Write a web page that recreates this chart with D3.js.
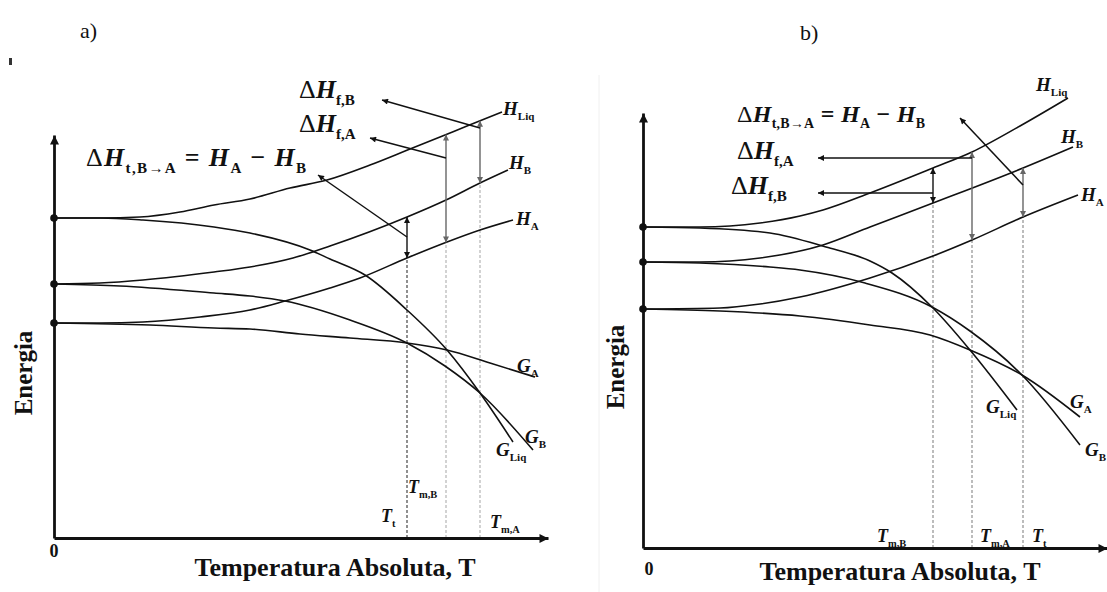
<!DOCTYPE html>
<html>
<head>
<meta charset="utf-8">
<script src="https://cdn.jsdelivr.net/npm/d3@7"></script>
<style>
  body { margin: 0; background: #fff; }
  svg { display: block; }
  text { font-family: "Liberation Serif", "Times New Roman", serif; white-space: pre; }
</style>
</head>
<body>
<svg id="chart" width="1107" height="592"></svg>
<script>
// ---------- Panel a) : [T, energy] in arbitrary units ----------
const aAxisMax = [98.8, 100.75];
const aHLiq = [[0,80],[9.2,80],[17.2,80.25],[25.2,81.5],[32,83.25],[39.2,84.75],[47.2,87.5],[54.6,89.5],[63.2,93.25],[71.2,97.25],[77.2,100.25],[82.6,103],[89.6,106.5]];
const aGLiq = [[0,80],[9.2,80],[17.8,79.5],[32,77.75],[39.2,76.25],[51.2,72],[55.2,69.75],[62.2,65.75],[70.6,57],[78.6,47],[85.2,36.25],[91.8,24]];
const aHB   = [[0,63.5],[9.2,63.75],[17.8,64.5],[32,66.5],[39.2,67.75],[47.8,70],[55.2,73],[70.6,80.25],[78.4,84.5],[85.2,88.75],[90.8,92]];
const aGB   = [[0,63.5],[13.2,63],[32,61.25],[39.2,60.5],[46.2,59.25],[59.2,54.5],[70.6,48.75],[78.2,43],[85.2,36.25],[95.8,22]];
const aHA   = [[0,53.75],[9.2,53.75],[17.8,54],[29.2,55.25],[39.2,57],[46.2,59.25],[55.2,62.5],[61.2,65],[70.6,70],[78.6,74],[85.2,77],[91.8,79.5]];
const aGA   = [[0,53.75],[19.2,53.25],[32,52.5],[39.2,52.25],[49.2,51],[59.2,50],[70.6,48.75],[78.6,47],[87.2,43.75],[96.2,40.25]];
const aMarks = [70.6, 78.4, 85.2];                      // transition / melting temperatures
const aLeaders = [[85.2,102.5,65.6,109.5],[78.4,95,63.2,100],[70.6,75.25,52.8,90.75]]; // [T0,E0,T1,E1]

// ---------- Panel b) ----------
const bAxisMax = [92.8, 108.75];
const bHLiq = [[0,80.25],[11.4,80.25],[17.4,80.5],[23.4,81.25],[31.4,83],[36,84.5],[45.4,88.75],[58,95],[65.8,99],[75.4,105.5],[85,112.5]];
const bGLiq = [[0,80.25],[11.4,80],[25.4,78.75],[36.6,75.25],[45.4,71.75],[49.8,68.75],[57.8,60.25],[65.4,49.5],[74.8,34.5]];
const bHB   = [[0,71.5],[11.4,71.5],[23.4,72.5],[36,75.75],[45.4,80.25],[58,86.25],[76,95],[86,100.25]];
const bGB   = [[0,71.5],[11.4,71.25],[25.4,70.25],[31.4,69.5],[44.4,66.25],[57.8,60.25],[65.4,54.25],[75.8,43.25],[87.4,25.75]];
const bHA   = [[0,59.75],[15.4,60],[23.4,61],[31.4,62.75],[45.4,67.5],[58,73],[65.8,77],[76,82.75],[87,88.25]];
const bGA   = [[0,59.75],[15.4,59.25],[31.4,58],[45.4,55.75],[57.4,53.25],[65.4,49.5],[75.8,43.25],[87.4,32.75]];
const bMarks = [58, 65.8, 76];
const bLeaders = [[65.8,97.5,35,97.5],[58,88.75,35,88.75],[76,90.75,63.4,107.5]];

const svg = d3.select("#chart");
const defs = svg.append("defs");
function marker(id, color, w, h) {
  defs.append("marker").attr("id", id).attr("viewBox", "0 0 10 10")
    .attr("refX", 10).attr("refY", 5).attr("markerWidth", w).attr("markerHeight", h)
    .attr("markerUnits", "userSpaceOnUse").attr("orient", "auto-start-reverse")
    .append("path").attr("d", "M0,0L10,5L0,10z").attr("fill", color);
}
marker("headK", "#111", 8, 6);
marker("headG", "#666", 8, 6);
marker("axisHead", "#111", 12, 9);

// value of a curve at temperature t (linear between read points)
function valueAt(curve, t) {
  for (let i = 1; i < curve.length; i++) {
    if (t <= curve[i][0]) {
      const [t0, e0] = curve[i-1], [t1, e1] = curve[i];
      return e0 + (e1 - e0) * (t - t0) / (t1 - t0);
    }
  }
  return curve[curve.length-1][1];
}

// rich text: parts = [[string, kind]] ; kind n=plain, i=bold italic, b=bold, s=subscript
function rich(g, x, y, parts, size, width) {
  const t = g.append("text").attr("x", x).attr("y", y).attr("font-size", size).attr("fill", "#111");
  if (width) t.attr("textLength", width).attr("lengthAdjust", "spacing");
  let low = false;
  for (const [str, kind] of parts) {
    const s = t.append("tspan").text(str);
    if (kind === "s") {
      s.attr("font-size", size * 0.58).attr("font-weight", "bold");
      if (!low) { s.attr("dy", size * 0.25); low = true; }
    } else {
      if (low) { s.attr("dy", -size * 0.25); low = false; }
      if (kind === "i") s.attr("font-weight", "bold").attr("font-style", "italic");
      if (kind === "b") s.attr("font-weight", "bold");
    }
  }
  return t;
}

function panel(cfg) {
  const g = svg.append("g");
  const x = d3.scaleLinear().domain([0, cfg.axisMax[0]]).range(cfg.xRange);
  const y = d3.scaleLinear().domain([0, cfg.axisMax[1]]).range(cfg.yRange);
  const line = d3.line().x(d => x(d[0])).y(d => y(d[1])).curve(d3.curveMonotoneX);

  // dotted verticals from the T axis up to the lower enthalpy curve
  cfg.marks.forEach((t, i) => {
    g.append("line").attr("x1", x(t)).attr("x2", x(t))
      .attr("y1", y(0)).attr("y2", y(valueAt(cfg.dropTo[i], t)))
      .attr("stroke", cfg.dashColor[i]).attr("stroke-width", 1.3).attr("stroke-dasharray", "3,2");
  });

  // curves
  cfg.curves.forEach(c => {
    g.append("path").attr("d", line(c)).attr("fill", "none")
      .attr("stroke", "#111").attr("stroke-width", 1.6);
  });

  // double arrows (enthalpy differences)
  cfg.spans.forEach(([i, top, bot, col]) => {
    const t = cfg.marks[i];
    g.append("line").attr("x1", x(t)).attr("x2", x(t))
      .attr("y1", y(valueAt(top, t))).attr("y2", y(valueAt(bot, t)))
      .attr("stroke", col === "K" ? "#111" : "#666").attr("stroke-width", 1.4)
      .attr("marker-start", `url(#head${col})`).attr("marker-end", `url(#head${col})`);
  });

  // leader arrows to the ΔH labels
  cfg.leaders.forEach(([t0, e0, t1, e1]) => {
    g.append("line").attr("x1", x(t0)).attr("y1", y(e0)).attr("x2", x(t1)).attr("y2", y(e1))
      .attr("stroke", "#111").attr("stroke-width", 1.5).attr("marker-end", "url(#headK)");
  });

  // axes with arrowheads
  const ax = g.append("g").attr("transform", `translate(0,${y(0)})`)
    .call(d3.axisBottom(x).tickValues([]).tickSizeOuter(0));
  const ay = g.append("g").attr("transform", `translate(${x(0)},0)`)
    .call(d3.axisLeft(y).tickValues([]).tickSizeOuter(0));
  [ax, ay].forEach(a => a.select(".domain").attr("stroke", "#111").attr("stroke-width", 2.8)
    .attr("marker-end", "url(#axisHead)"));

  // starting points at T = 0
  const starts = Array.from(new Set(cfg.curves.map(c => c[0][1])));
  g.selectAll("circle.start").data(starts).join("circle")
    .attr("cx", x(0)).attr("cy", d => y(d)).attr("r", 3.8).attr("fill", "#111");

  // curve labels
  cfg.curveLabels.forEach(([c, main, sub, dx, dy]) => {
    const end = c[c.length - 1];
    rich(g, x(end[0]) + dx, y(end[1]) + dy, [[main, "i"], [sub, "s"]], 19);
  });

  return { g, x, y };
}

// ---------- panel a ----------
const pa = panel({
  axisMax: aAxisMax, xRange: [54, 548], yRange: [538, 135],
  curves: [aHLiq, aGLiq, aHB, aGB, aHA, aGA],
  marks: aMarks, dropTo: [aHA, aHA, aHB], dashColor: ["#555", "#bbb", "#bbb"],
  spans: [[0, aHB, aHA, "K"], [1, aHLiq, aHA, "G"], [2, aHLiq, aHB, "G"]],
  leaders: aLeaders,
  curveLabels: [[aHLiq, "H", "Liq", 1, 3], [aHB, "H", "B", 1, -1], [aHA, "H", "A", 3, 5],
                [aGA, "G", "A", -18, -5], [aGB, "G", "B", -8, -7], [aGLiq, "G", "Liq", -17, 14]]
});
rich(pa.g, 299, 98, [["Δ", "n"], ["H", "i"], ["f,B", "s"]], 26);
rich(pa.g, 299, 132, [["Δ", "n"], ["H", "i"], ["f,A", "s"]], 26);
rich(pa.g, 86, 166, [["Δ", "n"], ["H", "i"], ["t,B→A", "s"], [" = ", "b"], ["H", "i"], ["A", "s"], [" − ", "b"], ["H", "i"], ["B", "s"]], 26, 220);
rich(pa.g, 381, 522, [["T", "i"], ["t", "s"]], 18);
rich(pa.g, 408, 493, [["T", "i"], ["m,B", "s"]], 18);
rich(pa.g, 490, 528, [["T", "i"], ["m,A", "s"]], 18);

// ---------- panel b ----------
const pb = panel({
  axisMax: bAxisMax, xRange: [643, 1107], yRange: [548, 113],
  curves: [bHLiq, bGLiq, bHB, bGB, bHA, bGA],
  marks: bMarks, dropTo: [bHB, bHA, bHA], dashColor: ["#999", "#999", "#999"],
  spans: [[0, bHLiq, bHB, "K"], [1, bHLiq, bHA, "G"], [2, bHB, bHA, "G"]],
  leaders: bLeaders,
  curveLabels: [[bHLiq, "H", "Liq", -32, -7], [bHB, "H", "B", -12, -4], [bHA, "H", "A", 3, 6],
                [bGA, "G", "A", -10, -9], [bGB, "G", "B", 5, 11], [bGLiq, "G", "Liq", -31, 3]]
});
rich(pb.g, 737, 122, [["Δ", "n"], ["H", "i"], ["t,B→A", "s"], [" = ", "b"], ["H", "i"], ["A", "s"], [" − ", "b"], ["H", "i"], ["B", "s"]], 24, 188);
rich(pb.g, 737, 159, [["Δ", "n"], ["H", "i"], ["f,A", "s"]], 26);
rich(pb.g, 731, 194, [["Δ", "n"], ["H", "i"], ["f,B", "s"]], 26);
rich(pb.g, 877, 542, [["T", "i"], ["m,B", "s"]], 18);
rich(pb.g, 980, 542, [["T", "i"], ["m,A", "s"]], 18);
rich(pb.g, 1032, 542, [["T", "i"], ["t", "s"]], 18);

// ---------- titles ----------
const bold = (g, x, y, str, size, anchor) => g.append("text").attr("x", x).attr("y", y)
  .attr("font-size", size).attr("font-weight", "bold").attr("text-anchor", anchor || "middle")
  .attr("fill", "#111").text(str);

bold(svg, 54, 557, "0", 18);
bold(svg, 649, 575, "0", 18);
bold(svg, 335, 576, "Temperatura Absoluta, T", 26);
bold(svg, 900, 580, "Temperatura Absoluta, T", 26);
bold(svg, 0, 0, "Energia", 25).attr("transform", "translate(32,373) rotate(-90)");
bold(svg, 0, 0, "Energia", 25).attr("transform", "translate(624,367) rotate(-90)");

svg.append("text").attr("x", 80).attr("y", 38).attr("font-size", 22).attr("fill", "#111")
  .attr("font-family", "'Liberation Sans', Arial, sans-serif").text("a)");
svg.append("text").attr("x", 800).attr("y", 40).attr("font-size", 22).attr("fill", "#111")
  .attr("font-family", "'Liberation Sans', Arial, sans-serif").text("b)");

// small stray mark near the top-left corner
svg.append("rect").attr("x", 9).attr("y", 58).attr("width", 3).attr("height", 7).attr("fill", "#333");
// faint edge of panel b frame
svg.append("line").attr("x1", 599).attr("x2", 599).attr("y1", 75).attr("y2", 592)
  .attr("stroke", "#f0f0f0").attr("stroke-width", 1);
</script>
</body>
</html>
